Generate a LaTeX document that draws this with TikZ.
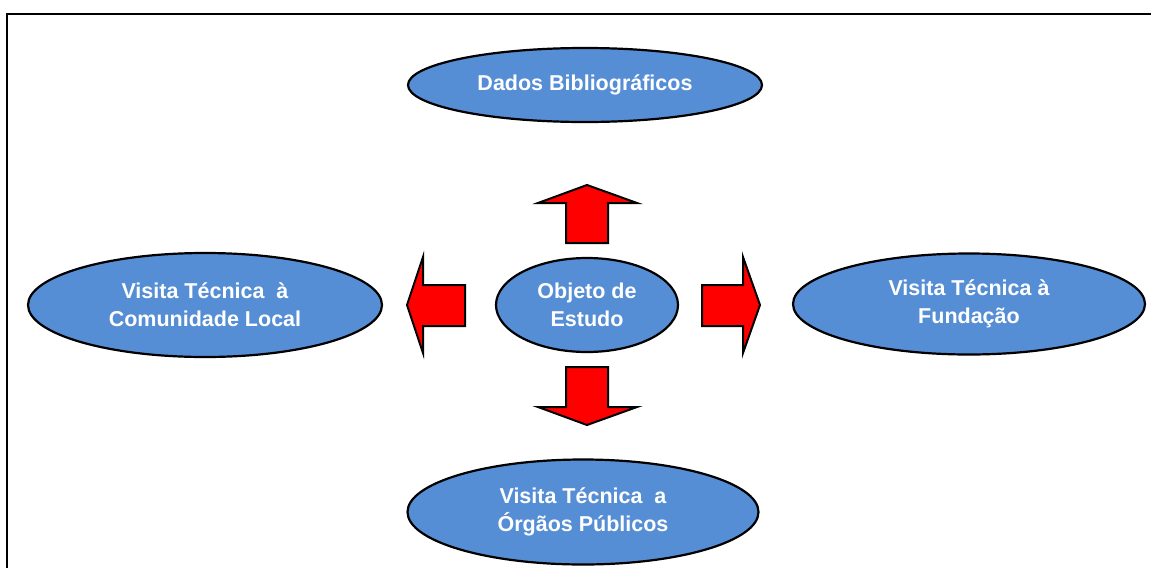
\documentclass[tikz,border=0pt]{standalone}
\usepackage{fontspec}
\setmainfont{Liberation Sans}
\usetikzlibrary{shapes.geometric}
\definecolor{ovalblue}{RGB}{85,142,213}
\tikzset{
  oval/.style={ellipse, draw=black, line width=2.2pt, fill=ovalblue, inner sep=0pt,
    text=white, align=center, font=\fontsize{21.5}{28}\selectfont\bfseries},
  blockarrow/.style={draw=black, line width=2pt, fill=red, line join=miter},
  frame/.style={draw=black, line width=2pt}
}
\begin{document}
\begin{tikzpicture}[x=1pt,y=-1pt]
\useasboundingbox (0,0) rectangle (1151,568);
% frame
\draw[frame] (1151,14) -- (7,14) -- (7,568);
% ovals
\node[oval, minimum width=354pt, minimum height=74pt] (dados) at (585,85) {Dados Bibliográficos};
\node[oval, minimum width=354pt, minimum height=104pt] (comunidade) at (205,305) {Visita Técnica~~à\\Comunidade Local};
\node[oval, minimum width=352pt, minimum height=101pt] (fundacao) at (969,304) {Visita Técnica à\\Fundação};
\node[oval, minimum width=351pt, minimum height=105pt] (orgaos) at (583,512) {Visita Técnica~~a\\Órgãos Públicos};
\node[oval, minimum width=182pt, minimum height=94pt] (objeto) at (587,305) {Objeto de\\Estudo};
% block arrows
\draw[blockarrow] (566,243) -- (566,203) -- (538,203) -- (587,185) -- (637,203) -- (608,203) -- (608,243) -- cycle;
\draw[blockarrow] (566,367) -- (566,407) -- (538,407) -- (587,425) -- (637,407) -- (608,407) -- (608,367) -- cycle;
\draw[blockarrow] (465,285) -- (423,285) -- (423,257) -- (407,305) -- (423,353) -- (423,326) -- (465,326) -- cycle;
\draw[blockarrow] (702,285) -- (743,285) -- (743,257) -- (760,305) -- (743,353) -- (743,326) -- (702,326) -- cycle;
\end{tikzpicture}
\end{document}
